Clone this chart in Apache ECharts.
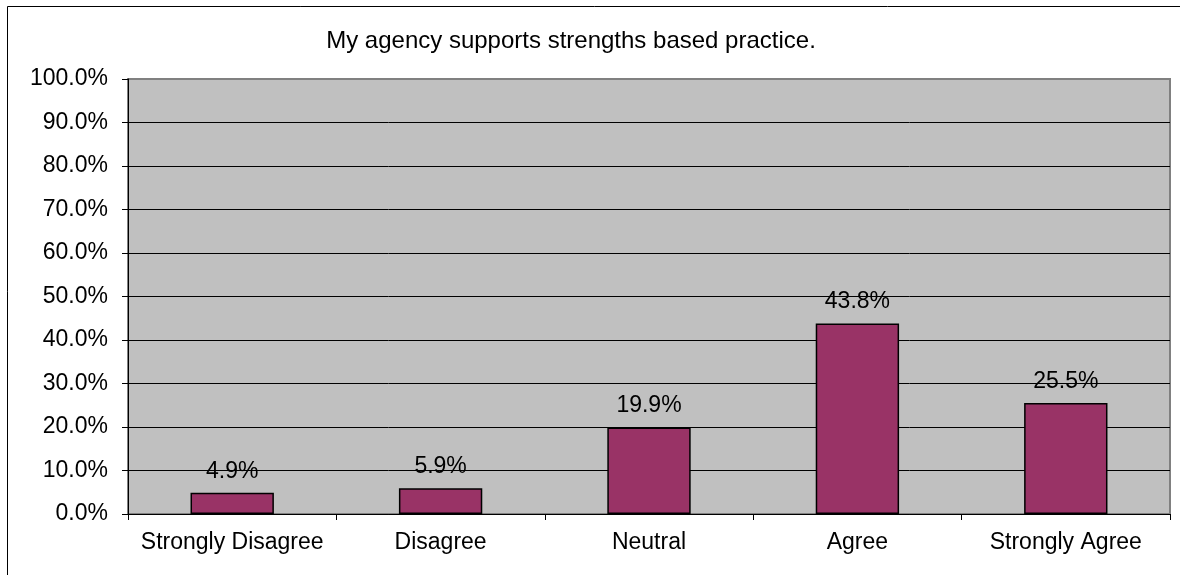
<!DOCTYPE html>
<html>
<head>
<meta charset="utf-8">
<style>
  html, body { margin: 0; padding: 0; background: #fff; }
  #chart { width: 1180px; height: 575px; }
</style>
<script src="https://cdn.jsdelivr.net/npm/echarts@6/dist/echarts.min.js"></script>
</head>
<body>
<div id="chart"></div>
<script>
const chartTitle = 'My agency supports strengths based practice.';
const categories = ['Strongly Disagree', 'Disagree', 'Neutral', 'Agree', 'Strongly Agree'];
const percentValues = [4.9, 5.9, 19.9, 43.8, 25.5];

const chart = echarts.init(document.getElementById('chart'), null, { renderer: 'canvas' });
const fontFamily = 'Arial, "Liberation Sans", sans-serif';

chart.setOption({
  animation: false,
  backgroundColor: '#ffffff',
  title: {
    text: chartTitle,
    left: 566,
    top: 24,
    textAlign: 'center',
    textStyle: { fontFamily, fontSize: 24, fontWeight: 'normal', color: '#000' }
  },
  graphic: [{
    type: 'rect',
    shape: { x: 7.5, y: 6.5, width: 1200, height: 600 },
    style: { fill: 'none', stroke: '#000', lineWidth: 1 },
    silent: true
  }],
  grid: {
    left: 128, top: 79, right: 10, bottom: 61,
    show: true,
    backgroundColor: '#C0C0C0',
    borderColor: '#808080',
    borderWidth: 2
  },
  xAxis: {
    type: 'category',
    data: categories,
    axisLine: { lineStyle: { color: '#000', width: 1 } },
    axisTick: { show: true, interval: 0, length: 6, lineStyle: { color: '#000' } },
    axisLabel: { color: '#000', fontFamily, fontSize: 23, margin: 17, interval: 0 }
  },
  yAxis: {
    type: 'value',
    min: 0, max: 100, interval: 10,
    axisLine: { show: true, lineStyle: { color: '#000', width: 1 } },
    axisTick: { show: true, length: 6, lineStyle: { color: '#000' } },
    splitLine: { show: true, showMaxLine: false, lineStyle: { color: '#000', width: 1 } },
    axisLabel: {
      color: '#000', fontFamily, fontSize: 23, margin: 20,
      formatter: v => v.toFixed(1) + '%'
    }
  },
  series: [{
    type: 'bar',
    data: percentValues,
    barWidth: '40%',
    itemStyle: { color: '#993366', borderColor: '#000', borderWidth: 1.5 },
    label: {
      show: true,
      position: 'top',
      distance: 10,
      color: '#000',
      fontFamily, fontSize: 23,
      formatter: p => p.value.toFixed(1) + '%'
    }
  }]
});
</script>
</body>
</html>
